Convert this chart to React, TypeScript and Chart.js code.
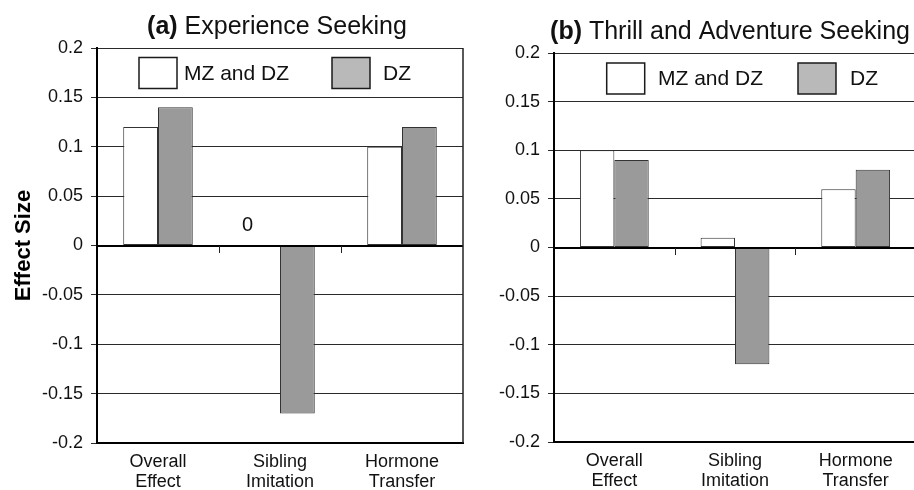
import React, { useEffect, useRef } from "react";
import { Chart, registerables } from "chart.js";

Chart.register(...registerables);

// ---------- data ----------
const categories = [
  ["Overall", "Effect"],
  ["Sibling", "Imitation"],
  ["Hormone", "Transfer"],
];
const seriesNames = ["MZ and DZ", "DZ"];
const experienceMZDZ = [0.12, 0, 0.1];
const experienceDZ = [0.14, -0.17, 0.12];
const thrillMZDZ = [0.1, 0.01, 0.06];
const thrillDZ = [0.09, -0.12, 0.08];
const yTicks = [-0.2, -0.15, -0.1, -0.05, 0, 0.05, 0.1, 0.15, 0.2];
const yTickLabels = ["-0.2", "-0.15", "-0.1", "-0.05", "0", "0.05", "0.1", "0.15", "0.2"];
const titleTags = ["(a)", "(b)"];
const titleTexts = ["Experience Seeking", "Thrill and Adventure Seeking"];
const yAxisTitle = "Effect Size";

// ---------- styling / layout ----------
const FONT = "'Liberation Sans', Arial, Helvetica, sans-serif";
const barFills = ["#ffffff", "#9a9a9a"];
const legendFills = ["#ffffff", "#b9b9b9"];

type Panel = {
  left: number;
  width: number;
  padTop: number;
  padRight: number;
  yWidth: number;
  xHeight: number;
  idx: number;
  a: number[];
  b: number[];
  showYTitle: boolean;
  showRightBorder: boolean;
  titleOffset: number;
  legend: { box1: number; text1: number; box2: number; text2: number; top: number };
};

const panels: Panel[] = [
  {
    left: 0,
    width: 470,
    padTop: 48,
    padRight: 7,
    yWidth: 97,
    xHeight: 47,
    idx: 0,
    a: experienceMZDZ,
    b: experienceDZ,
    showYTitle: true,
    showRightBorder: true,
    titleOffset: -3,
    legend: { box1: 42, text1: 45, box2: 235, text2: 51, top: 9.5 },
  },
  {
    left: 470,
    width: 450,
    padTop: 53,
    padRight: 4,
    yWidth: 84,
    xHeight: 48,
    idx: 1,
    a: thrillMZDZ,
    b: thrillDZ,
    showYTitle: false,
    showRightBorder: false,
    titleOffset: -5,
    legend: { box1: 52.7, text1: 51.3, box2: 244, text2: 52, top: 10 },
  },
];

function makeDecorPlugin(p: Panel) {
  return {
    id: "decor" + p.idx,
    afterDatasetsDraw(chart: any) {
      const ctx = chart.ctx;
      const area = chart.chartArea;
      const xs = chart.scales.x;
      const ys = chart.scales.y;
      const zeroY = ys.getPixelForValue(0);
      ctx.save();
      // zero line
      ctx.strokeStyle = "#000";
      ctx.lineWidth = 2;
      ctx.beginPath();
      ctx.moveTo(area.left, Math.round(zeroY));
      ctx.lineTo(area.right, Math.round(zeroY));
      ctx.stroke();
      // category boundary ticks below zero line
      ctx.lineWidth = 1;
      ctx.strokeStyle = "#222";
      for (let i = 0; i < categories.length - 1; i++) {
        const bx = Math.round((xs.getPixelForValue(i) + xs.getPixelForValue(i + 1)) / 2) + 0.5;
        ctx.beginPath();
        ctx.moveTo(bx, Math.round(zeroY));
        ctx.lineTo(bx, Math.round(zeroY) + 7);
        ctx.stroke();
      }
      // right border
      if (p.showRightBorder) {
        ctx.strokeStyle = "#222";
        ctx.lineWidth = 1.5;
        ctx.beginPath();
        ctx.moveTo(area.right, area.top);
        ctx.lineTo(area.right, area.bottom);
        ctx.stroke();
      }
      // labels for zero-valued bars
      ctx.fillStyle = "#111";
      ctx.font = `20px ${FONT}`;
      ctx.textAlign = "center";
      ctx.textBaseline = "middle";
      chart.data.datasets.forEach((ds: any, di: number) => {
        const meta = chart.getDatasetMeta(di);
        ds.data.forEach((v: number, i: number) => {
          if (v === 0) {
            const el = meta.data[i];
            ctx.fillText("0", el.x - 15, zeroY - 20);
          }
        });
      });
      // legend
      const L = p.legend;
      const boxW = 38;
      const boxH = 31;
      const by = area.top + L.top;
      const boxXs = [area.left + L.box1, area.left + L.box2];
      const textXs = [boxXs[0] + L.text1, boxXs[1] + L.text2];
      chart.data.datasets.forEach((ds: any, di: number) => {
        ctx.fillStyle = legendFills[di];
        ctx.fillRect(boxXs[di], by, boxW, boxH);
        ctx.strokeStyle = "#1a1a1a";
        ctx.lineWidth = 1.5;
        ctx.strokeRect(boxXs[di], by, boxW, boxH);
        ctx.fillStyle = "#111";
        ctx.font = `21px ${FONT}`;
        ctx.textAlign = "left";
        ctx.textBaseline = "middle";
        ctx.fillText(ds.label, textXs[di], by + boxH / 2 + 1);
      });
      // title
      const tag = titleTags[p.idx];
      const txt = titleTexts[p.idx];
      ctx.font = `bold 25px ${FONT}`;
      const wTag = ctx.measureText(tag + " ").width;
      ctx.font = `25px ${FONT}`;
      const wTxt = ctx.measureText(txt).width;
      const cx = (area.left + area.right) / 2 + p.titleOffset;
      const startX = cx - (wTag + wTxt) / 2;
      const baseY = area.top - 14;
      ctx.textBaseline = "alphabetic";
      ctx.textAlign = "left";
      ctx.fillStyle = "#111";
      ctx.font = `bold 25px ${FONT}`;
      ctx.fillText(tag, startX, baseY);
      ctx.font = `25px ${FONT}`;
      ctx.fillText(txt, startX + wTag, baseY);
      ctx.restore();
    },
  };
}

function PanelChart({ p }: { p: Panel }) {
  const ref = useRef<HTMLCanvasElement>(null);
  useEffect(() => {
    const canvas = ref.current!;
    const chart = new Chart(canvas, {
      type: "bar",
      data: {
        labels: categories as any,
        datasets: [
          {
            label: seriesNames[0],
            data: p.a,
            backgroundColor: barFills[0],
            borderColor: "#333",
            borderWidth: 1,
            borderSkipped: false,
            categoryPercentage: 0.57,
            barPercentage: 1,
          },
          {
            label: seriesNames[1],
            data: p.b,
            backgroundColor: barFills[1],
            borderColor: "#333",
            borderWidth: 1,
            borderSkipped: false,
            categoryPercentage: 0.57,
            barPercentage: 1,
          },
        ],
      },
      options: {
        responsive: false,
        maintainAspectRatio: false,
        animation: false,
        devicePixelRatio: 1,
        layout: { padding: { top: p.padTop, right: p.padRight, left: 0, bottom: 0 } },
        plugins: {
          legend: { display: false },
          title: { display: false },
          tooltip: { enabled: false },
        },
        scales: {
          x: {
            grid: { display: false, drawTicks: false },
            border: { display: true, color: "#000", width: 2 },
            ticks: {
              color: "#111",
              font: { size: 18, family: FONT, lineHeight: 1.1 },
              padding: 9,
              maxRotation: 0,
              autoSkip: false,
            },
            afterFit: (s: any) => {
              s.height = p.xHeight;
              s.paddingLeft = 0;
              s.paddingRight = 0;
            },
          },
          y: {
            min: -0.2,
            max: 0.2,
            afterBuildTicks: (s: any) => {
              s.ticks = yTicks.map((v) => ({ value: v }));
            },
            afterFit: (s: any) => {
              s.width = p.yWidth;
              s.paddingTop = 0;
              s.paddingBottom = 0;
            },
            grid: {
              color: "#2a2a2a",
              lineWidth: 1,
              drawTicks: true,
              tickLength: 6,
              tickColor: "#2a2a2a",
            },
            border: { display: true, color: "#000", width: 2 },
            ticks: {
              color: "#111",
              font: { size: 18, family: FONT },
              padding: 8,
              callback: (_v: any, i: number) => yTickLabels[i],
            },
            title: {
              display: p.showYTitle,
              text: yAxisTitle,
              color: "#000",
              font: { size: 22, weight: "bold", family: FONT },
              padding: { top: 11, bottom: 0 },
            },
          },
        },
      },
      plugins: [makeDecorPlugin(p)],
    } as any);
    return () => chart.destroy();
  }, []);
  return (
    <canvas
      ref={ref}
      width={p.width}
      height={490}
      style={{ position: "absolute", left: p.left, top: 0, width: p.width, height: 490 }}
    />
  );
}

export default function App() {
  return (
    <div
      style={{
        position: "absolute",
        left: 0,
        top: 0,
        width: 914,
        height: 490,
        overflow: "hidden",
        background: "#ffffff",
      }}
    >
      {panels.map((p, i) => (
        <PanelChart key={i} p={p} />
      ))}
    </div>
  );
}
